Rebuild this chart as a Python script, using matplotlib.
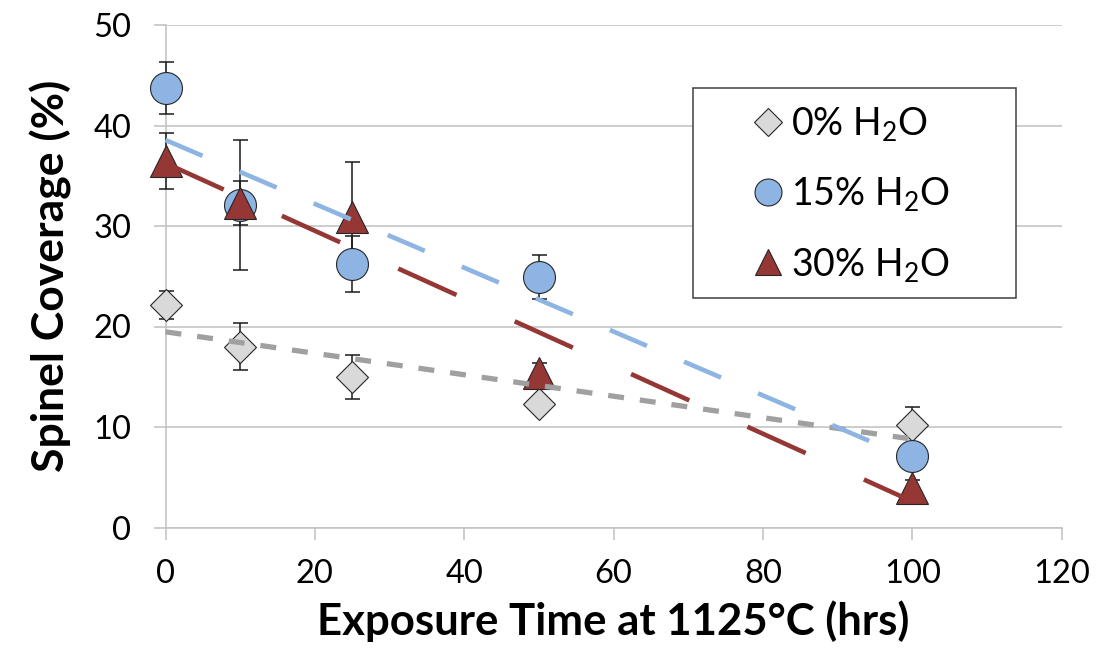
import numpy as np
import matplotlib
matplotlib.use("Agg")
import matplotlib.pyplot as plt
from matplotlib.lines import Line2D
from matplotlib.patches import Rectangle

plt.rcParams['font.family'] = ['Lato', 'DejaVu Sans']
plt.rcParams['mathtext.fontset'] = 'custom'
plt.rcParams['mathtext.rm'] = 'Lato'
plt.rcParams['mathtext.it'] = 'Lato:italic'
plt.rcParams['mathtext.bf'] = 'Lato:bold'
plt.rcParams['mathtext.default'] = 'regular'
plt.rcParams['lines.scale_dashes'] = False

# ---- data ----
hours = [0, 10, 25, 50, 100]
cov_0 = [22.1, 18.0, 15.0, 12.3, 10.2]
err_0 = [1.4, 2.3, 2.2, 0.8, 1.8]
cov_15 = [43.7, 32.1, 26.2, 24.9, 7.1]
err_15 = [2.6, 6.5, 2.8, 2.2, 1.0]
cov_30 = [36.5, 32.3, 30.9, 15.4, 3.9]
err_30 = [2.8, 2.2, 5.5, 1.0, 0.8]
labels = ['0% H$_2$O', '15% H$_2$O', '30% H$_2$O']
x_ticks = [0, 20, 40, 60, 80, 100, 120]
y_ticks = [0, 10, 20, 30, 40, 50]

c_dia = '#d9d9d9'
c_circ = '#8db4e2'
c_tri = '#953735'
c_gray_line = '#a0a0a0'
edge = '#262626'
grid_c = '#c0c0c0'

W, H = 1105, 648
fig = plt.figure(figsize=(W/100, H/100), dpi=100)
ax = fig.add_axes([165.5/W, 1-527.5/H, (1061.7-165.5)/W, (527.5-25)/H])

series = [
    (cov_0, err_0, 'D', 16.5, c_dia, c_gray_line, (0, (11.5, 11.5)), 3.8),
    (cov_15, err_15, 'o', 23.0, c_circ, c_circ, (0, (29, 29)), 3.3),
    (cov_30, err_30, '^', 23.0, c_tri, c_tri, (0, (46, 46)), 3.3),
]

xa = np.array(hours, dtype=float)
for i, (y, e, m, ms, fc, lc, ls, lw) in enumerate(series):
    eb = ax.errorbar(hours, y, yerr=e, fmt='none', ecolor='#1a1a1a', elinewidth=1.1,
                     capsize=5.4, capthick=1.1, zorder=3 + i*0.1)
    for art in eb.lines[1] + eb.lines[2]:
        art.set_clip_on(False)
    ax.plot(hours, y, linestyle='none', marker=m, markersize=ms, markerfacecolor=fc,
            markeredgecolor=edge, markeredgewidth=0.8, zorder=4 + i*0.1, clip_on=False)

for i, (y, e, m, ms, fc, lc, ls, lw) in enumerate(series):
    k, b = np.polyfit(xa, np.array(y), 1)
    xs = np.array([xa.min(), xa.max()])
    ax.plot(xs, k*xs + b, color=lc, linestyle=ls, linewidth=lw,
            solid_capstyle='butt', dash_capstyle='butt', zorder=6, clip_on=False)

ax.set_xlim(0, 120)
ax.set_ylim(0, 50)
ax.set_xticks(x_ticks)
ax.set_yticks(y_ticks)
ax.yaxis.grid(True, color=grid_c, linewidth=1.1, zorder=0)
ax.set_axisbelow(True)
for s in ['top', 'right']:
    ax.spines[s].set_visible(False)
for s in ['left', 'bottom']:
    ax.spines[s].set_color(grid_c)
    ax.spines[s].set_linewidth(1.1)
ax.tick_params(axis='both', which='major', length=8.6, width=1.1, color=grid_c,
               labelsize=23.5, labelcolor='black', direction='out')
ax.tick_params(axis='y', pad=16)
ax.tick_params(axis='x', pad=14)

ax.set_xlabel('Exposure Time at 1125°C (hrs)', fontsize=31.5, fontweight='bold', labelpad=8)
ax.set_ylabel('Spinel Coverage (%)', fontsize=32, fontweight='bold', labelpad=15)

handles = []
for (y, e, m, ms, fc, lc, ls, lw), lab in zip(series, labels):
    hs = ms * 27/32
    handles.append(Line2D([], [], linestyle='none', marker=m, markersize=hs,
                          markerfacecolor=fc, markeredgecolor=edge, markeredgewidth=0.8))
leg = ax.legend(handles, labels, loc='upper left',
                bbox_to_anchor=(749/W, 1-105/H), bbox_transform=fig.transFigure,
                fontsize=27, frameon=False, borderpad=0, labelspacing=0.86,
                handletextpad=0.12, handlelength=1.0, borderaxespad=0)
leg.set_zorder(10)
box = Rectangle((693/W, 1-298/H), (1016-693)/W, (298-88)/H, transform=fig.transFigure,
                facecolor='white', edgecolor='#404040', linewidth=1.1, zorder=9,
                clip_on=False)
ax.add_patch(box)

fig.savefig('out.png', dpi=100)
